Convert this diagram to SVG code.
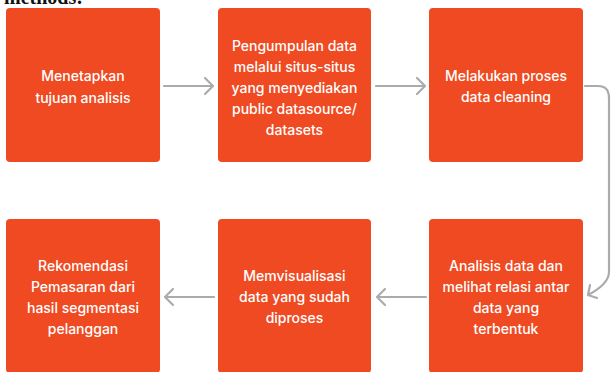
<svg xmlns="http://www.w3.org/2000/svg" width="611" height="372" viewBox="0 0 611 372">
<style>
.box{fill:#EF4A22;}
.t{font-family:Inter,"Noto Sans","Liberation Sans",sans-serif;font-size:14px;font-weight:500;fill:#ffffff;text-anchor:middle;}
.c{fill:none;stroke:#ABABAB;stroke-width:2.2;stroke-linecap:round;stroke-linejoin:round;}
.h{font-family:"Liberation Serif",serif;font-weight:bold;font-size:20px;fill:#111;}
</style>
<rect width="611" height="372" fill="#ffffff"/>
<text class="h" x="4" y="4">methods:</text>
<g id="n1"><rect class="box" x="6" y="8" width="154" height="154" rx="4"/>
<text class="t" x="83" y="81">Menetapkan</text><text class="t" x="83" y="103">tujuan analisis</text></g>
<g id="n2"><rect class="box" x="218" y="8" width="153" height="154" rx="4"/>
<text class="t" x="294.5" y="51">Pengumpulan data</text><text class="t" x="294.5" y="72">melalui situs-situs</text><text class="t" x="294.5" y="93">yang menyediakan</text><text class="t" x="294.5" y="114">public datasource/</text><text class="t" x="294.5" y="135">datasets</text></g>
<g id="n3"><rect class="box" x="429" y="8" width="154" height="154" rx="4"/>
<text class="t" x="506" y="81">Melakukan proses</text><text class="t" x="506" y="102">data cleaning</text></g>
<g id="n4"><rect class="box" x="6" y="219" width="154" height="154" rx="4"/>
<text class="t" x="83" y="271">Rekomendasi</text><text class="t" x="83" y="292">Pemasaran dari</text><text class="t" x="83" y="313">hasil segmentasi</text><text class="t" x="83" y="334">pelanggan</text></g>
<g id="n5"><rect class="box" x="218" y="219" width="153" height="154" rx="4"/>
<text class="t" x="294.5" y="281">Memvisualisasi</text><text class="t" x="294.5" y="302">data yang sudah</text><text class="t" x="294.5" y="323">diproses</text></g>
<g id="n6"><rect class="box" x="429" y="219" width="154" height="154" rx="4"/>
<text class="t" x="506" y="271">Analisis data dan</text><text class="t" x="506" y="292">melihat relasi antar</text><text class="t" x="506" y="313">data yang</text><text class="t" x="506" y="334">terbentuk</text></g>
<g id="connectors">
<path class="c" d="M164 86 H212 M205 78 L213 86 L205 94"/>
<path class="c" d="M376 86 H424 M417 78 L425 86 L417 94"/>
<path class="c" d="M585 86 H598 Q609 86 609 98 V272 Q609 284 588 295 M590 285 L588 295 L597 298"/>
<path class="c" d="M426 297 H378 M385 289 L377 297 L385 305"/>
<path class="c" d="M214 297 H166 M173 289 L165 297 L173 305"/>
</g>
</svg>
